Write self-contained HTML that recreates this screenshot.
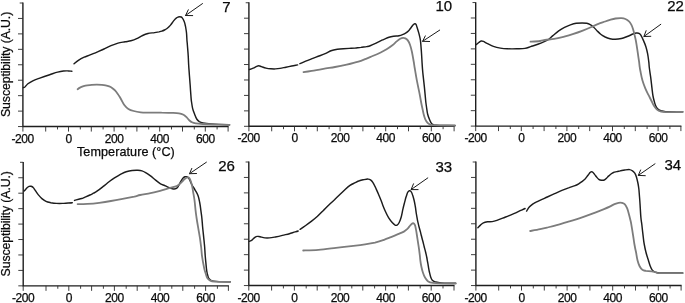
<!DOCTYPE html>
<html><head><meta charset="utf-8"><title>Susceptibility vs Temperature</title>
<style>html,body{margin:0;padding:0;background:#fff;}svg{display:block;}</style></head>
<body>
<svg width="685" height="303" viewBox="0 0 685 303">
<rect width="685" height="303" fill="#fff"/>
<path d="M22.90,2.60V126.55H228.60M248.90,2.35V126.30H454.60M475.70,2.15V126.10H681.40M23.20,161.90V285.85H228.90M248.80,161.60V285.55H454.50M475.90,161.60V285.55H681.60" stroke="#1e1e1e" stroke-width="1.4" fill="none" stroke-linejoin="miter"/>
<path d="M19.70,3.00H22.90M18.00,18.44H22.90M18.00,33.89H22.90M18.00,49.33H22.90M18.00,64.78H22.90M18.00,80.22H22.90M18.00,95.66H22.90M18.00,111.11H22.90M18.00,126.55H22.90M22.90,126.55V131.55M45.70,126.55V131.55M57.50,126.55V129.45M68.50,126.55V131.55M80.30,126.55V129.45M91.30,126.55V131.55M103.10,126.55V129.45M114.10,126.55V131.55M125.90,126.55V129.45M136.90,126.55V131.55M148.70,126.55V129.45M159.70,126.55V131.55M171.50,126.55V129.45M182.50,126.55V131.55M194.30,126.55V129.45M205.30,126.55V131.55M217.10,126.55V129.45M228.10,126.55V131.55M245.70,2.75H248.90M244.00,18.19H248.90M244.00,33.64H248.90M244.00,49.08H248.90M244.00,64.53H248.90M244.00,79.97H248.90M244.00,95.41H248.90M244.00,110.86H248.90M244.00,126.30H248.90M248.90,126.30V131.30M271.70,126.30V131.30M283.50,126.30V129.20M294.50,126.30V131.30M306.30,126.30V129.20M317.30,126.30V131.30M329.10,126.30V129.20M340.10,126.30V131.30M351.90,126.30V129.20M362.90,126.30V131.30M374.70,126.30V129.20M385.70,126.30V131.30M397.50,126.30V129.20M408.50,126.30V131.30M420.30,126.30V129.20M431.30,126.30V131.30M443.10,126.30V129.20M454.10,126.30V131.30M472.50,2.55H475.70M470.80,17.99H475.70M470.80,33.44H475.70M470.80,48.88H475.70M470.80,64.32H475.70M470.80,79.77H475.70M470.80,95.21H475.70M470.80,110.66H475.70M470.80,126.10H475.70M475.70,126.10V131.10M498.50,126.10V131.10M510.30,126.10V129.00M521.30,126.10V131.10M533.10,126.10V129.00M544.10,126.10V131.10M555.90,126.10V129.00M566.90,126.10V131.10M578.70,126.10V129.00M589.70,126.10V131.10M601.50,126.10V129.00M612.50,126.10V131.10M624.30,126.10V129.00M635.30,126.10V131.10M647.10,126.10V129.00M658.10,126.10V131.10M669.90,126.10V129.00M680.90,126.10V131.10M20.00,162.30H23.20M18.30,177.74H23.20M18.30,193.19H23.20M18.30,208.63H23.20M18.30,224.08H23.20M18.30,239.52H23.20M18.30,254.96H23.20M18.30,270.41H23.20M18.30,285.85H23.20M23.20,285.85V290.85M46.00,285.85V290.85M57.80,285.85V288.75M68.80,285.85V290.85M80.60,285.85V288.75M91.60,285.85V290.85M103.40,285.85V288.75M114.40,285.85V290.85M126.20,285.85V288.75M137.20,285.85V290.85M149.00,285.85V288.75M160.00,285.85V290.85M171.80,285.85V288.75M182.80,285.85V290.85M194.60,285.85V288.75M205.60,285.85V290.85M217.40,285.85V288.75M228.40,285.85V290.85M245.60,162.00H248.80M243.90,177.44H248.80M243.90,192.89H248.80M243.90,208.33H248.80M243.90,223.78H248.80M243.90,239.22H248.80M243.90,254.66H248.80M243.90,270.11H248.80M243.90,285.55H248.80M248.80,285.55V290.55M271.60,285.55V290.55M283.40,285.55V288.45M294.40,285.55V290.55M306.20,285.55V288.45M317.20,285.55V290.55M329.00,285.55V288.45M340.00,285.55V290.55M351.80,285.55V288.45M362.80,285.55V290.55M374.60,285.55V288.45M385.60,285.55V290.55M397.40,285.55V288.45M408.40,285.55V290.55M420.20,285.55V288.45M431.20,285.55V290.55M443.00,285.55V288.45M454.00,285.55V290.55M472.70,162.00H475.90M471.00,177.44H475.90M471.00,192.89H475.90M471.00,208.33H475.90M471.00,223.78H475.90M471.00,239.22H475.90M471.00,254.66H475.90M471.00,270.11H475.90M471.00,285.55H475.90M475.90,285.55V290.55M498.70,285.55V290.55M510.50,285.55V288.45M521.50,285.55V290.55M533.30,285.55V288.45M544.30,285.55V290.55M556.10,285.55V288.45M567.10,285.55V290.55M578.90,285.55V288.45M589.90,285.55V290.55M601.70,285.55V288.45M612.70,285.55V290.55M624.50,285.55V288.45M635.50,285.55V290.55M647.30,285.55V288.45M658.30,285.55V290.55M670.10,285.55V288.45M681.10,285.55V290.55" stroke="#2a2a2a" stroke-width="0.9" fill="none"/>
<path d="M23.4,87.6 C23.6,87.5 24.1,87.6 24.9,87.0 C25.6,86.4 26.6,84.8 27.9,83.8 C29.2,82.8 30.8,81.8 32.8,80.8 C34.8,79.8 37.0,79.1 39.8,78.1 C42.6,77.1 46.7,75.7 49.7,74.7 C52.7,73.7 55.3,72.7 57.6,72.1 C59.9,71.5 61.7,71.2 63.5,71.0 C65.3,70.8 67.1,70.9 68.5,70.9 C69.9,70.9 71.3,71.2 71.9,71.2" fill="none" stroke="#1c1c1c" stroke-width="1.45" stroke-linecap="round" stroke-linejoin="round"/>
<path d="M74.0,63.8 C74.7,63.2 76.7,61.4 78.4,60.3 C80.1,59.2 82.2,58.1 84.2,57.2 C86.2,56.3 88.0,55.8 90.1,54.9 C92.2,54.0 94.7,53.1 97.0,52.1 C99.3,51.1 101.7,50.1 104.0,49.0 C106.3,47.9 108.7,46.7 111.0,45.7 C113.3,44.7 115.7,43.8 118.0,43.1 C120.3,42.5 122.8,42.2 125.0,41.8 C127.2,41.4 129.0,41.3 130.9,40.8 C132.8,40.3 134.8,39.6 136.7,38.7 C138.6,37.8 140.7,36.4 142.6,35.5 C144.5,34.6 146.0,34.0 148.0,33.5 C150.0,33.0 152.8,32.9 154.6,32.6 C156.4,32.3 157.8,32.1 159.0,31.9 C160.2,31.6 161.0,31.4 161.9,31.1 C162.8,30.8 163.7,30.4 164.5,30.0 C165.3,29.6 166.2,29.1 167.0,28.5 C167.8,27.9 168.4,27.3 169.0,26.7 C169.6,26.1 169.9,25.9 170.7,24.9 C171.5,23.9 172.6,22.1 173.6,20.9 C174.6,19.7 175.7,18.5 176.5,17.9 C177.3,17.2 177.8,17.2 178.3,17.0 C178.9,16.8 179.3,16.8 179.8,16.8 C180.3,16.8 180.8,16.8 181.2,17.0 C181.6,17.2 182.0,17.5 182.3,17.9 C182.7,18.3 183.0,18.9 183.3,19.5 C183.6,20.1 183.9,20.8 184.2,21.6 C184.5,22.4 184.8,23.3 185.0,24.2 C185.2,25.1 185.4,25.8 185.6,26.8 C185.8,27.9 186.0,29.3 186.2,30.5 C186.4,31.7 186.5,32.5 186.6,34.0 C186.7,35.5 186.8,37.6 186.9,39.5 C187.0,41.4 187.2,42.5 187.4,45.2 C187.6,47.9 188.0,52.1 188.2,55.5 C188.4,58.9 188.5,62.2 188.7,65.5 C188.9,68.8 189.2,71.9 189.4,75.2 C189.7,78.5 189.9,82.1 190.2,85.5 C190.4,88.9 190.7,92.9 190.9,95.5 C191.1,98.1 191.1,99.0 191.4,101.1 C191.7,103.2 192.1,106.1 192.6,108.3 C193.1,110.5 194.0,112.6 194.7,114.4 C195.4,116.2 195.9,117.8 196.7,119.0 C197.5,120.2 198.3,120.9 199.3,121.6 C200.3,122.2 200.9,122.5 202.9,122.9 C204.9,123.3 206.7,123.6 211.1,123.9 C215.5,124.2 226.4,124.6 229.5,124.7" fill="none" stroke="#1c1c1c" stroke-width="1.45" stroke-linecap="round" stroke-linejoin="round"/>
<path d="M77.6,89.3 C78.0,89.0 79.0,88.1 80.0,87.6 C81.0,87.1 82.4,86.6 83.6,86.2 C84.8,85.8 85.9,85.5 87.3,85.3 C88.7,85.1 90.1,84.9 91.7,84.8 C93.3,84.7 95.1,84.6 96.8,84.6 C98.5,84.6 100.5,84.7 101.9,84.8 C103.4,84.9 104.3,85.0 105.5,85.3 C106.7,85.6 108.1,86.0 109.2,86.4 C110.3,86.8 111.1,87.2 112.1,87.9 C113.1,88.6 114.1,89.4 115.0,90.4 C115.9,91.4 116.8,92.6 117.6,93.7 C118.4,94.8 119.1,95.9 119.8,97.0 C120.5,98.1 120.8,98.9 121.6,100.2 C122.3,101.5 123.2,103.5 124.3,105.0 C125.4,106.5 126.8,107.9 128.4,108.9 C130.0,109.9 131.6,110.4 133.7,111.0 C135.8,111.6 138.0,112.0 140.7,112.3 C143.4,112.6 146.5,112.5 150.0,112.6 C153.5,112.6 158.2,112.5 161.7,112.6 C165.2,112.6 168.2,112.8 171.1,112.9 C174.0,113.0 176.9,113.0 179.0,113.3 C181.1,113.6 182.2,114.1 183.5,114.8 C184.8,115.5 185.5,116.2 186.5,117.2 C187.5,118.2 188.6,119.7 189.5,120.5 C190.4,121.3 191.0,121.8 192.0,122.3 C193.0,122.8 193.9,123.1 195.7,123.4 C197.5,123.7 197.3,123.7 202.9,124.0 C208.5,124.3 225.1,124.8 229.5,125.0" fill="none" stroke="#7c7c7c" stroke-width="1.8" stroke-linecap="round" stroke-linejoin="round"/>
<path d="M249.4,69.5 C250.0,69.3 252.0,68.6 253.2,68.1 C254.4,67.6 255.8,66.7 256.7,66.3 C257.6,65.9 258.0,65.8 258.8,65.8 C259.6,65.8 260.2,66.2 261.4,66.6 C262.6,67.0 264.4,67.7 266.0,68.1 C267.6,68.5 269.1,68.7 270.7,68.8 C272.3,68.9 273.8,69.0 275.4,68.9 C276.9,68.8 278.2,68.7 280.0,68.4 C281.8,68.1 283.9,67.6 285.9,67.2 C287.8,66.8 289.8,66.4 291.7,66.0 C293.6,65.6 296.6,65.1 297.6,64.9" fill="none" stroke="#1c1c1c" stroke-width="1.45" stroke-linecap="round" stroke-linejoin="round"/>
<path d="M299.9,63.7 C300.9,63.3 303.5,62.0 305.7,61.1 C307.9,60.2 310.4,59.3 312.8,58.4 C315.2,57.5 317.6,56.5 319.8,55.7 C322.0,54.9 323.9,54.2 325.8,53.4 C327.7,52.6 329.1,51.5 331.0,50.8 C332.9,50.1 335.3,49.6 337.4,49.2 C339.5,48.9 341.4,48.8 343.4,48.7 C345.4,48.6 347.3,48.5 349.2,48.4 C351.1,48.3 353.1,48.3 355.0,48.1 C356.9,47.9 358.9,47.6 360.9,47.4 C362.8,47.1 365.1,46.9 366.7,46.6 C368.2,46.3 368.6,46.3 370.2,45.7 C371.8,45.1 374.2,44.0 376.1,43.1 C378.1,42.2 380.4,40.9 381.9,40.2 C383.4,39.5 383.8,39.4 385.0,38.9 C386.2,38.4 387.6,37.8 389.0,37.3 C390.4,36.8 391.8,36.5 393.5,36.2 C395.2,35.9 397.5,36.0 399.0,35.7 C400.5,35.4 401.3,35.1 402.5,34.6 C403.7,34.1 404.9,33.5 406.0,32.8 C407.1,32.1 408.0,31.3 408.9,30.4 C409.8,29.5 410.6,28.2 411.3,27.3 C412.0,26.4 412.4,25.6 413.0,25.0 C413.6,24.4 414.3,23.9 414.8,23.8 C415.3,23.7 415.6,23.7 416.0,24.3 C416.4,24.9 416.6,26.0 417.1,27.5 C417.6,29.0 418.3,31.3 418.9,33.4 C419.4,35.5 420.0,37.2 420.4,40.2 C420.8,43.2 421.1,47.8 421.4,51.7 C421.7,55.6 421.9,59.9 422.1,63.4 C422.3,66.9 422.5,69.5 422.8,72.5 C423.1,75.5 423.4,78.2 423.8,81.7 C424.2,85.2 424.7,90.0 425.0,93.4 C425.3,96.8 425.6,99.7 425.8,102.0 C426.1,104.3 426.2,105.0 426.5,107.0 C426.8,109.0 427.1,112.0 427.6,114.0 C428.1,116.0 428.8,117.8 429.4,119.3 C430.0,120.8 430.5,121.9 431.1,122.8 C431.7,123.7 432.0,124.1 432.9,124.5 C433.8,124.9 432.7,125.0 436.4,125.2 C440.1,125.4 452.0,125.5 455.1,125.5" fill="none" stroke="#1c1c1c" stroke-width="1.45" stroke-linecap="round" stroke-linejoin="round"/>
<path d="M303.5,72.2 C304.9,72.0 308.4,71.5 311.7,70.9 C315.0,70.4 319.5,69.6 323.4,68.9 C327.3,68.2 331.1,67.7 335.0,67.0 C338.9,66.3 342.8,65.5 346.7,64.6 C350.6,63.7 355.2,62.6 358.4,61.6 C361.6,60.6 363.6,59.7 366.0,58.8 C368.4,57.9 370.2,57.0 372.6,56.0 C375.1,55.0 378.4,53.6 380.7,52.5 C383.0,51.4 384.7,50.5 386.6,49.3 C388.6,48.1 390.7,46.6 392.4,45.3 C394.1,44.0 395.4,42.5 396.7,41.4 C398.0,40.3 399.1,39.4 400.2,38.8 C401.3,38.2 402.2,37.9 403.1,37.8 C404.0,37.7 404.6,38.0 405.4,38.4 C406.2,38.8 407.0,39.3 407.8,40.4 C408.6,41.5 409.3,42.8 410.0,44.7 C410.7,46.6 411.3,49.0 411.9,51.7 C412.5,54.4 413.1,58.2 413.6,61.0 C414.1,63.8 414.2,65.0 414.8,68.5 C415.4,72.0 416.3,77.5 417.1,81.7 C417.9,85.9 418.9,90.3 419.5,93.4 C420.1,96.5 420.4,98.2 420.8,100.5 C421.2,102.8 421.6,104.8 422.1,107.0 C422.6,109.2 423.1,112.0 423.6,114.0 C424.1,116.0 424.6,117.8 425.3,119.3 C426.0,120.8 426.8,121.9 427.6,122.8 C428.4,123.7 429.1,124.1 430.0,124.5 C430.9,124.9 428.7,125.0 432.9,125.2 C437.1,125.4 451.4,125.5 455.1,125.6" fill="none" stroke="#7c7c7c" stroke-width="1.8" stroke-linecap="round" stroke-linejoin="round"/>
<path d="M476.4,44.6 C476.8,44.2 478.0,43.1 478.8,42.5 C479.6,41.9 480.3,41.2 481.1,41.0 C481.9,40.8 482.3,40.9 483.4,41.4 C484.5,41.9 485.8,42.9 487.5,43.7 C489.2,44.5 491.2,45.7 493.4,46.4 C495.5,47.1 498.1,47.7 500.4,48.1 C502.7,48.5 504.7,48.7 507.4,48.8 C510.1,48.9 513.8,48.9 516.7,48.8 C519.6,48.7 522.6,48.8 524.9,48.4 C527.2,48.0 528.6,47.3 530.7,46.6 C532.9,45.9 535.4,45.2 537.8,44.3 C540.1,43.4 543.0,42.2 544.8,41.4 C546.6,40.6 547.1,40.5 548.5,39.5 C549.9,38.5 551.2,37.0 552.9,35.6 C554.6,34.2 556.8,32.3 558.7,30.9 C560.6,29.5 562.5,28.4 564.5,27.4 C566.5,26.4 568.4,25.6 570.4,24.9 C572.4,24.2 574.2,23.6 576.2,23.3 C578.2,23.0 580.4,22.9 582.1,22.9 C583.9,22.9 585.4,23.0 586.7,23.3 C588.1,23.6 589.0,24.0 590.2,24.6 C591.4,25.2 592.5,26.1 593.7,27.2 C594.9,28.2 596.0,29.7 597.2,30.9 C598.4,32.1 599.4,33.2 600.7,34.2 C602.0,35.2 603.7,36.2 605.2,37.0 C606.8,37.8 608.3,38.3 610.0,38.7 C611.7,39.1 613.4,39.3 615.3,39.3 C617.2,39.3 619.4,39.0 621.4,38.5 C623.4,38.0 625.3,37.2 627.2,36.5 C629.1,35.8 631.5,34.6 633.0,34.0 C634.5,33.4 635.4,33.1 636.5,33.0 C637.6,32.9 638.7,33.1 639.5,33.6 C640.3,34.1 640.6,34.9 641.3,36.0 C641.9,37.1 642.6,38.6 643.4,40.4 C644.2,42.2 645.2,44.5 645.9,46.7 C646.6,48.9 647.1,51.2 647.6,53.7 C648.1,56.2 648.5,59.6 648.8,61.9 C649.1,64.2 649.0,65.0 649.3,67.5 C649.6,70.0 650.1,73.2 650.6,76.7 C651.1,80.2 651.6,85.2 652.0,88.4 C652.4,91.6 652.6,93.9 653.0,96.0 C653.4,98.1 653.6,99.1 654.1,100.8 C654.6,102.5 655.1,104.7 655.8,106.1 C656.5,107.5 657.3,108.5 658.2,109.3 C659.1,110.1 659.9,110.4 661.1,110.8 C662.4,111.2 662.1,111.4 665.7,111.6 C669.3,111.8 679.9,111.7 682.7,111.7" fill="none" stroke="#1c1c1c" stroke-width="1.45" stroke-linecap="round" stroke-linejoin="round"/>
<path d="M530.5,41.7 C532.1,41.6 537.7,41.3 540.1,41.0 C542.5,40.7 542.7,40.4 545.0,40.0 C547.3,39.6 550.9,39.4 554.0,38.9 C557.1,38.4 560.3,37.6 563.4,36.8 C566.5,36.0 569.6,35.2 572.7,34.2 C575.8,33.2 579.0,32.1 582.1,30.9 C585.2,29.7 588.7,28.2 591.4,27.0 C594.1,25.8 596.1,24.8 598.4,23.9 C600.7,23.0 603.3,22.2 605.2,21.5 C607.1,20.8 608.3,20.4 610.0,19.9 C611.7,19.4 613.6,18.8 615.5,18.5 C617.4,18.2 619.8,18.0 621.4,18.1 C623.0,18.2 624.1,18.4 625.4,19.0 C626.7,19.6 628.0,20.5 629.0,21.4 C630.0,22.3 630.6,23.4 631.3,24.6 C632.0,25.9 632.5,27.3 633.0,28.9 C633.5,30.5 634.0,32.6 634.4,34.2 C634.8,35.8 635.0,36.8 635.4,38.5 C635.8,40.2 636.1,41.8 636.5,44.3 C636.9,46.8 637.5,50.8 637.9,53.7 C638.3,56.6 638.8,59.6 639.1,61.9 C639.4,64.2 639.5,65.8 639.8,67.5 C640.0,69.2 640.2,69.9 640.6,72.0 C641.0,74.1 641.6,77.5 642.4,80.2 C643.2,82.9 644.3,85.9 645.3,88.4 C646.3,90.9 647.6,93.2 648.6,95.2 C649.6,97.2 650.4,98.7 651.3,100.5 C652.2,102.3 653.1,104.6 654.1,106.1 C655.1,107.6 655.9,108.7 657.0,109.6 C658.1,110.5 659.0,111.0 660.5,111.4 C662.0,111.8 662.0,112.0 665.7,112.1 C669.4,112.2 679.9,111.9 682.7,111.9" fill="none" stroke="#7c7c7c" stroke-width="1.8" stroke-linecap="round" stroke-linejoin="round"/>
<path d="M24.1,191.1 C24.6,190.6 26.0,188.9 26.8,188.1 C27.6,187.3 28.4,186.7 29.1,186.4 C29.8,186.1 30.4,186.1 31.1,186.3 C31.8,186.5 32.5,186.8 33.2,187.6 C33.9,188.3 34.6,189.6 35.5,190.8 C36.4,192.0 37.3,193.6 38.4,194.9 C39.5,196.2 40.6,197.5 41.9,198.6 C43.2,199.7 44.5,200.6 46.0,201.3 C47.5,202.0 49.0,202.3 50.7,202.7 C52.5,203.0 54.5,203.3 56.5,203.4 C58.5,203.5 60.4,203.5 62.4,203.4 C64.3,203.3 66.5,203.1 68.2,203.0 C69.9,202.9 71.6,202.8 72.3,202.7" fill="none" stroke="#1c1c1c" stroke-width="1.45" stroke-linecap="round" stroke-linejoin="round"/>
<path d="M74.5,200.4 C75.2,200.2 77.5,199.6 78.7,199.3 C79.9,199.0 80.7,198.8 81.7,198.5 C82.7,198.2 83.2,197.9 84.6,197.3 C86.0,196.7 88.4,195.7 89.9,195.0 C91.4,194.3 92.3,193.8 93.5,193.2 C94.7,192.6 95.4,192.3 97.0,191.2 C98.6,190.1 101.0,188.2 102.9,186.7 C104.9,185.2 106.8,183.5 108.7,182.0 C110.6,180.5 112.5,179.2 114.5,177.9 C116.5,176.6 118.5,175.3 120.4,174.3 C122.4,173.3 124.2,172.3 126.2,171.7 C128.2,171.1 130.2,170.7 132.1,170.5 C134.0,170.3 136.2,170.2 137.9,170.3 C139.6,170.4 140.6,170.5 142.0,170.9 C143.4,171.3 144.7,172.1 146.1,172.9 C147.5,173.7 148.9,174.7 150.5,175.9 C152.1,177.1 153.9,178.8 155.6,180.1 C157.3,181.4 159.0,182.9 160.5,183.8 C162.0,184.7 163.2,184.9 164.6,185.5 C166.0,186.1 167.4,187.0 168.7,187.5 C170.0,188.0 171.2,188.5 172.3,188.7 C173.4,188.9 174.4,189.0 175.3,188.8 C176.2,188.6 176.8,188.2 177.5,187.4 C178.2,186.7 178.7,185.4 179.3,184.3 C179.9,183.2 180.7,181.7 181.3,180.6 C181.9,179.5 182.5,178.6 183.1,178.0 C183.7,177.4 184.3,177.0 184.9,176.8 C185.5,176.6 186.0,176.5 186.6,176.7 C187.2,176.9 187.8,177.1 188.4,177.9 C189.0,178.7 189.7,180.0 190.3,181.3 C191.0,182.6 191.5,184.1 192.3,185.5 C193.1,186.9 194.1,188.1 195.0,189.8 C195.9,191.5 197.2,193.4 198.0,195.5 C198.8,197.6 199.2,200.0 199.7,202.5 C200.2,205.0 200.6,208.2 200.9,210.7 C201.2,213.2 201.5,214.8 201.8,217.5 C202.1,220.2 202.3,223.2 202.6,226.7 C202.9,230.2 203.5,234.9 203.8,238.4 C204.2,241.9 204.4,244.4 204.7,247.5 C204.9,250.6 205.0,253.2 205.3,256.7 C205.6,260.1 206.1,265.3 206.4,268.2 C206.7,271.1 206.9,272.1 207.3,273.8 C207.7,275.5 208.1,277.4 208.8,278.5 C209.5,279.6 210.2,280.1 211.4,280.6 C212.6,281.1 213.0,281.2 216.1,281.4 C219.2,281.6 227.8,281.7 230.1,281.8" fill="none" stroke="#1c1c1c" stroke-width="1.45" stroke-linecap="round" stroke-linejoin="round"/>
<path d="M77.6,204.1 C79.2,204.1 83.9,204.1 87.5,203.9 C91.1,203.7 95.3,203.3 99.2,202.8 C103.1,202.3 107.0,201.7 110.9,201.0 C114.8,200.3 118.7,199.6 122.6,198.9 C126.5,198.2 131.4,197.2 134.3,196.6 C137.2,195.9 137.5,195.6 140.2,195.0 C142.9,194.4 147.2,193.9 150.5,193.2 C153.8,192.5 157.7,191.5 160.1,190.9 C162.5,190.3 163.3,189.9 165.0,189.4 C166.7,188.9 168.3,188.5 170.0,188.0 C171.7,187.5 173.6,187.1 175.0,186.6 C176.4,186.1 177.2,185.7 178.4,184.9 C179.6,184.1 180.8,182.9 181.9,181.9 C183.0,180.9 184.0,179.4 185.0,178.7 C186.0,177.9 186.9,177.5 187.7,177.4 C188.4,177.3 189.0,177.6 189.5,178.3 C190.0,179.0 190.5,180.3 190.9,181.6 C191.3,182.9 191.7,184.3 192.1,186.0 C192.5,187.7 192.7,189.4 193.1,191.8 C193.5,194.2 194.1,197.0 194.5,200.2 C194.9,203.3 195.3,207.8 195.6,210.7 C195.9,213.6 196.1,214.8 196.5,217.5 C196.9,220.2 197.4,223.2 198.0,226.7 C198.6,230.2 199.5,234.9 200.0,238.4 C200.5,241.9 200.8,244.4 201.2,247.5 C201.5,250.6 201.6,253.2 202.1,256.7 C202.6,260.2 203.6,265.5 204.2,268.4 C204.8,271.2 205.3,272.2 205.8,273.8 C206.3,275.4 206.6,276.9 207.3,278.0 C208.0,279.1 208.7,279.8 209.9,280.4 C211.1,281.0 211.2,281.3 214.6,281.6 C218.0,281.9 227.5,281.9 230.1,282.0" fill="none" stroke="#7c7c7c" stroke-width="1.8" stroke-linecap="round" stroke-linejoin="round"/>
<path d="M249.4,241.3 C249.8,241.1 251.1,240.8 252.0,240.1 C252.9,239.4 254.0,238.0 254.9,237.4 C255.8,236.8 256.4,236.5 257.3,236.4 C258.2,236.3 258.9,236.6 260.2,236.8 C261.5,237.1 263.3,237.7 264.9,237.9 C266.4,238.1 267.8,238.1 269.5,237.9 C271.2,237.8 273.2,237.4 275.4,237.0 C277.5,236.6 280.1,236.0 282.4,235.4 C284.7,234.8 287.3,234.3 289.4,233.7 C291.5,233.1 293.7,232.3 295.2,231.9 C296.7,231.5 297.7,231.2 298.2,231.0" fill="none" stroke="#1c1c1c" stroke-width="1.45" stroke-linecap="round" stroke-linejoin="round"/>
<path d="M300.1,229.3 C301.0,228.7 303.8,226.8 305.7,225.5 C307.6,224.2 309.6,222.7 311.6,221.2 C313.6,219.7 315.5,218.1 317.5,216.3 C319.5,214.5 321.5,212.3 323.4,210.4 C325.3,208.5 327.2,206.5 329.1,204.7 C331.0,202.9 332.8,201.3 334.5,199.7 C336.2,198.0 337.8,196.5 339.6,194.8 C341.4,193.1 343.7,190.9 345.4,189.3 C347.1,187.7 348.4,186.5 350.0,185.4 C351.6,184.3 353.1,183.7 354.7,182.9 C356.3,182.1 357.8,181.2 359.4,180.7 C361.0,180.1 362.6,179.9 364.1,179.6 C365.6,179.3 367.1,179.0 368.2,179.1 C369.3,179.2 369.7,179.4 370.5,179.9 C371.3,180.4 372.0,181.1 372.8,182.3 C373.6,183.5 374.4,185.3 375.4,187.3 C376.3,189.3 377.6,192.0 378.5,194.2 C379.4,196.4 380.3,198.5 381.0,200.3 C381.7,202.1 382.0,203.1 382.7,204.9 C383.4,206.7 384.2,208.8 385.2,211.0 C386.2,213.2 387.5,216.0 388.7,217.9 C389.9,219.8 391.1,221.3 392.2,222.5 C393.3,223.7 394.3,224.7 395.1,225.1 C395.9,225.5 396.4,225.5 397.1,225.1 C397.8,224.7 398.5,223.9 399.2,222.5 C399.9,221.1 400.7,218.8 401.3,216.7 C401.9,214.6 402.3,211.9 402.8,209.7 C403.3,207.5 403.7,205.7 404.3,203.5 C404.9,201.3 405.6,198.4 406.2,196.6 C406.8,194.8 407.1,193.5 407.6,192.5 C408.1,191.5 408.6,191.0 409.1,190.8 C409.7,190.6 410.3,190.7 410.9,191.4 C411.5,192.1 412.1,193.4 412.6,194.9 C413.2,196.4 413.7,198.7 414.2,200.7 C414.7,202.7 415.0,204.9 415.4,207.0 C415.8,209.1 415.9,211.2 416.3,213.5 C416.7,215.8 417.2,218.6 417.6,220.8 C418.1,223.0 418.5,224.9 419.0,226.7 C419.5,228.5 420.0,230.3 420.4,231.8 C420.8,233.3 421.0,234.3 421.4,235.8 C421.8,237.3 422.2,239.0 422.7,240.8 C423.2,242.6 423.7,244.8 424.2,246.7 C424.7,248.6 425.3,250.7 425.7,252.5 C426.1,254.3 426.5,255.9 426.8,257.5 C427.1,259.1 427.3,260.5 427.6,262.0 C427.9,263.5 428.1,265.0 428.4,266.7 C428.7,268.4 429.0,270.3 429.4,272.0 C429.8,273.7 430.1,275.3 430.6,276.7 C431.1,278.1 431.5,279.3 432.3,280.2 C433.1,281.1 433.7,281.4 435.2,281.9 C436.7,282.3 437.7,282.7 441.1,282.9 C444.5,283.1 453.3,283.2 455.7,283.3" fill="none" stroke="#1c1c1c" stroke-width="1.45" stroke-linecap="round" stroke-linejoin="round"/>
<path d="M303.2,250.5 C305.7,250.4 312.9,250.2 318.4,249.8 C323.8,249.4 330.1,248.5 335.9,247.8 C341.7,247.1 348.5,246.4 353.4,245.8 C358.3,245.2 361.5,244.8 365.1,244.3 C368.7,243.8 371.9,243.3 375.0,242.6 C378.1,241.8 381.3,240.7 384.0,239.8 C386.7,238.9 388.7,238.0 391.0,237.1 C393.3,236.2 395.9,235.1 398.0,234.2 C400.1,233.3 402.3,232.5 403.9,231.6 C405.5,230.7 406.3,229.9 407.4,228.9 C408.5,227.9 409.4,226.2 410.3,225.3 C411.2,224.4 411.9,223.7 412.5,223.4 C413.1,223.1 413.6,223.2 414.0,223.6 C414.4,224.0 414.8,224.6 415.1,225.6 C415.4,226.6 415.7,228.1 416.0,229.6 C416.3,231.1 416.5,232.4 416.8,234.5 C417.1,236.6 417.6,239.8 418.0,242.3 C418.4,244.8 418.8,247.3 419.1,249.6 C419.4,251.9 419.7,254.1 419.9,256.0 C420.1,257.9 420.1,259.0 420.4,260.8 C420.6,262.6 421.0,264.8 421.4,266.7 C421.8,268.6 422.3,270.7 422.9,272.5 C423.5,274.3 424.1,276.0 425.0,277.5 C425.9,279.0 426.9,280.5 428.2,281.4 C429.5,282.3 430.8,282.5 432.9,282.8 C435.0,283.1 437.3,283.2 441.1,283.3 C444.9,283.4 453.3,283.5 455.7,283.5" fill="none" stroke="#7c7c7c" stroke-width="1.8" stroke-linecap="round" stroke-linejoin="round"/>
<path d="M477.9,227.7 C478.3,227.3 479.6,225.9 480.5,225.1 C481.4,224.3 482.2,223.4 483.4,222.8 C484.6,222.2 486.0,222.0 487.5,221.8 C489.0,221.6 490.6,221.8 492.2,221.6 C493.8,221.4 495.1,221.0 496.9,220.4 C498.6,219.8 500.8,218.9 502.7,218.1 C504.6,217.3 506.7,216.6 508.6,215.8 C510.6,215.0 512.5,214.2 514.4,213.4 C516.3,212.6 518.4,211.5 520.2,210.7 C522.0,209.9 524.3,208.9 525.1,208.5" fill="none" stroke="#1c1c1c" stroke-width="1.45" stroke-linecap="round" stroke-linejoin="round"/>
<path d="M526.6,211.1 C526.9,210.6 527.8,209.0 528.4,208.1 C529.0,207.2 529.5,206.7 530.5,205.9 C531.5,205.1 533.0,203.9 534.2,203.2 C535.4,202.4 536.6,202.0 537.8,201.4 C539.0,200.8 539.9,200.4 541.5,199.7 C543.1,199.0 545.1,198.0 547.3,197.0 C549.5,196.0 552.2,194.8 554.6,193.7 C557.0,192.6 559.5,191.4 561.9,190.4 C564.3,189.4 567.1,188.3 569.2,187.6 C571.3,186.8 572.7,186.5 574.3,185.9 C575.9,185.3 577.4,184.6 578.7,183.8 C580.0,183.0 581.2,182.1 582.3,181.3 C583.4,180.5 584.3,179.8 585.3,178.8 C586.2,177.8 587.2,176.2 588.0,175.2 C588.8,174.2 589.3,173.4 589.8,172.8 C590.3,172.2 590.6,172.0 591.0,171.8 C591.4,171.6 591.8,171.6 592.2,171.8 C592.6,172.0 593.0,172.4 593.4,172.9 C593.8,173.4 594.3,173.9 594.8,174.6 C595.3,175.2 595.7,176.0 596.4,176.8 C597.1,177.6 597.9,178.7 598.8,179.3 C599.6,179.9 600.6,180.2 601.5,180.3 C602.4,180.4 603.5,180.3 604.3,180.0 C605.1,179.7 605.8,179.0 606.5,178.3 C607.2,177.6 608.0,176.6 608.8,175.9 C609.5,175.2 610.2,174.6 611.0,174.0 C611.8,173.4 612.5,172.9 613.5,172.5 C614.5,172.1 615.7,171.9 616.8,171.6 C617.9,171.3 618.9,171.2 620.2,170.9 C621.6,170.6 623.4,170.2 624.9,170.0 C626.4,169.8 628.2,169.5 629.5,169.6 C630.8,169.7 631.6,170.2 632.5,170.8 C633.4,171.4 634.1,172.0 634.8,173.1 C635.5,174.2 636.0,175.5 636.5,177.2 C637.0,178.8 637.5,181.1 637.9,183.0 C638.3,184.9 638.5,186.2 638.8,188.5 C639.1,190.8 639.2,193.4 639.5,196.7 C639.8,200.0 640.1,204.9 640.3,208.4 C640.5,211.9 640.6,214.8 640.9,217.5 C641.1,220.2 641.4,221.4 641.8,224.3 C642.1,227.2 642.6,231.7 643.0,234.9 C643.4,238.1 643.6,240.7 644.1,243.5 C644.6,246.3 645.2,249.4 645.9,252.0 C646.5,254.6 647.3,256.8 648.0,259.0 C648.7,261.2 649.3,263.5 650.0,265.4 C650.7,267.2 651.4,269.0 652.3,270.1 C653.2,271.2 653.9,271.6 655.2,272.1 C656.5,272.6 655.3,272.9 659.9,273.0 C664.5,273.1 678.9,273.0 682.7,273.0" fill="none" stroke="#1c1c1c" stroke-width="1.45" stroke-linecap="round" stroke-linejoin="round"/>
<path d="M530.2,231.0 C531.9,230.7 537.3,229.8 540.1,229.2 C542.9,228.6 544.2,228.3 547.0,227.6 C549.8,226.9 553.1,226.1 556.7,225.1 C560.3,224.1 564.5,222.8 568.4,221.6 C572.3,220.4 576.1,219.4 580.0,218.1 C583.9,216.8 587.8,215.4 591.7,213.9 C595.6,212.4 600.4,210.5 603.4,209.3 C606.4,208.1 607.9,207.5 609.7,206.6 C611.6,205.7 613.0,204.7 614.5,204.1 C616.0,203.5 617.4,203.0 618.6,202.8 C619.8,202.6 620.9,202.6 621.9,202.8 C622.9,203.1 624.0,203.4 624.9,204.3 C625.8,205.2 626.5,206.7 627.2,208.4 C627.9,210.1 628.5,212.5 629.0,214.5 C629.5,216.5 630.1,218.9 630.5,220.5 C630.9,222.1 630.9,221.9 631.3,224.3 C631.7,226.7 632.5,231.8 633.0,234.9 C633.5,238.0 633.9,240.8 634.2,243.0 C634.6,245.2 634.8,246.5 635.1,248.0 C635.4,249.5 635.6,250.0 636.0,252.0 C636.4,254.0 636.9,257.9 637.5,260.2 C638.1,262.5 638.7,264.4 639.5,266.0 C640.3,267.6 641.3,269.0 642.4,269.8 C643.5,270.6 644.3,270.6 645.9,270.9 C647.5,271.1 650.0,271.0 651.8,271.3 C653.5,271.6 655.0,272.2 656.4,272.5 C657.8,272.8 655.5,273.1 659.9,273.2 C664.3,273.3 678.9,273.1 682.7,273.1" fill="none" stroke="#7c7c7c" stroke-width="1.8" stroke-linecap="round" stroke-linejoin="round"/>
<g stroke="#1a1a1a" stroke-width="1.0" fill="none" stroke-linecap="round" stroke-linejoin="round">
<path d="M202.5,3.6L185.5,15.5M188.3,9.8L185.5,15.5L192.7,15.6"/>
<path d="M439.7,30.1L422.6,41.3M425.3,35.9L422.6,41.3L429.6,41.5"/>
<path d="M660.8,24.3L643.9,36.5M646.1,30.7L643.9,36.5L650.8,36.3"/>
<path d="M206.4,162.2L189.5,173.7M191.8,168.4L189.5,173.7L196.5,173.5"/>
<path d="M427.8,177.9L411.1,189.6M413.5,183.8L411.1,189.6L418.1,189.6"/>
<path d="M655.0,163.8L638.3,175.4M640.6,170.0L638.3,175.4L645.3,175.7"/>
</g>
<g font-family="'Liberation Sans', Arial, Helvetica, sans-serif" fill="#0a0a0a" stroke="#0a0a0a" stroke-width="0.25">
<text x="22.7" y="142.7" font-size="12" letter-spacing="-0.45" text-anchor="middle">-200</text>
<text x="68.5" y="142.7" font-size="12" letter-spacing="-0.45" text-anchor="middle">0</text>
<text x="114.1" y="142.7" font-size="12" letter-spacing="-0.45" text-anchor="middle">200</text>
<text x="159.7" y="142.7" font-size="12" letter-spacing="-0.45" text-anchor="middle">400</text>
<text x="205.3" y="142.7" font-size="12" letter-spacing="-0.45" text-anchor="middle">600</text>
<text transform="translate(10.3,117.0) rotate(-90)" font-size="12.3" letter-spacing="-0.1">Susceptibility (A.U.)</text>
<text x="248.7" y="142.4" font-size="12" letter-spacing="-0.45" text-anchor="middle">-200</text>
<text x="294.5" y="142.4" font-size="12" letter-spacing="-0.45" text-anchor="middle">0</text>
<text x="340.1" y="142.4" font-size="12" letter-spacing="-0.45" text-anchor="middle">200</text>
<text x="385.7" y="142.4" font-size="12" letter-spacing="-0.45" text-anchor="middle">400</text>
<text x="431.3" y="142.4" font-size="12" letter-spacing="-0.45" text-anchor="middle">600</text>
<text x="475.5" y="142.2" font-size="12" letter-spacing="-0.45" text-anchor="middle">-200</text>
<text x="521.3" y="142.2" font-size="12" letter-spacing="-0.45" text-anchor="middle">0</text>
<text x="566.9" y="142.2" font-size="12" letter-spacing="-0.45" text-anchor="middle">200</text>
<text x="612.5" y="142.2" font-size="12" letter-spacing="-0.45" text-anchor="middle">400</text>
<text x="658.1" y="142.2" font-size="12" letter-spacing="-0.45" text-anchor="middle">600</text>
<text x="23.0" y="302.0" font-size="12" letter-spacing="-0.45" text-anchor="middle">-200</text>
<text x="68.8" y="302.0" font-size="12" letter-spacing="-0.45" text-anchor="middle">0</text>
<text x="114.4" y="302.0" font-size="12" letter-spacing="-0.45" text-anchor="middle">200</text>
<text x="160.0" y="302.0" font-size="12" letter-spacing="-0.45" text-anchor="middle">400</text>
<text x="205.6" y="302.0" font-size="12" letter-spacing="-0.45" text-anchor="middle">600</text>
<text transform="translate(10.3,276.4) rotate(-90)" font-size="12.3" letter-spacing="-0.1">Susceptibility (A.U.)</text>
<text x="248.6" y="301.7" font-size="12" letter-spacing="-0.45" text-anchor="middle">-200</text>
<text x="294.4" y="301.7" font-size="12" letter-spacing="-0.45" text-anchor="middle">0</text>
<text x="340.0" y="301.7" font-size="12" letter-spacing="-0.45" text-anchor="middle">200</text>
<text x="385.6" y="301.7" font-size="12" letter-spacing="-0.45" text-anchor="middle">400</text>
<text x="431.2" y="301.7" font-size="12" letter-spacing="-0.45" text-anchor="middle">600</text>
<text x="475.7" y="301.7" font-size="12" letter-spacing="-0.45" text-anchor="middle">-200</text>
<text x="521.5" y="301.7" font-size="12" letter-spacing="-0.45" text-anchor="middle">0</text>
<text x="567.1" y="301.7" font-size="12" letter-spacing="-0.45" text-anchor="middle">200</text>
<text x="612.7" y="301.7" font-size="12" letter-spacing="-0.45" text-anchor="middle">400</text>
<text x="658.3" y="301.7" font-size="12" letter-spacing="-0.45" text-anchor="middle">600</text>
<text x="77" y="156.3" font-size="12.6" letter-spacing="0.07">Temperature (°C)</text>
<text x="222.2" y="12.4" font-size="15">7</text>
<text x="435.5" y="11.4" font-size="15">10</text>
<text x="667.2" y="11.3" font-size="15">22</text>
<text x="218.2" y="171.0" font-size="15">26</text>
<text x="435.5" y="171.6" font-size="15">33</text>
<text x="664.5" y="170.4" font-size="15">34</text>
</g>
</svg>
</body></html>
